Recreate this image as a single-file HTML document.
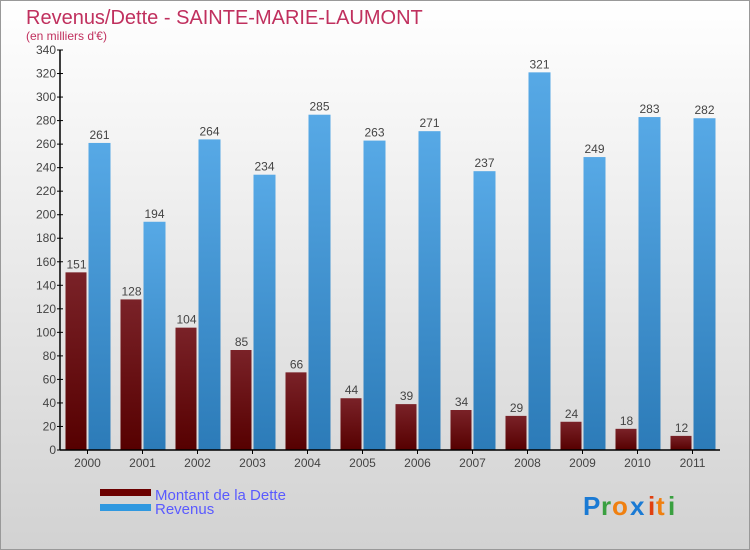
<!DOCTYPE html>
<html><head><meta charset="utf-8"><style>
body{margin:0}
svg{display:block;font-family:"Liberation Sans",sans-serif}
</style></head><body>
<svg width="750" height="550" id="c">
<defs>
<linearGradient id="bg" x1="0" y1="0" x2="0" y2="1"><stop offset="0" stop-color="#ffffff"/><stop offset="1" stop-color="#d2d2d2"/></linearGradient>
<linearGradient id="gd" x1="0" y1="0" x2="0" y2="1"><stop offset="0" stop-color="#7a2228"/><stop offset="1" stop-color="#560000"/></linearGradient>
<linearGradient id="gr" x1="0" y1="0" x2="0" y2="1"><stop offset="0" stop-color="#57a9e6"/><stop offset="1" stop-color="#2c7bb8"/></linearGradient>
</defs>
<rect x="0.5" y="0.5" width="749" height="549" fill="url(#bg)" stroke="#999"/>
<text x="26" y="24" font-size="20" fill="#c0305e">Revenus/Dette - SAINTE-MARIE-LAUMONT</text>
<text x="26" y="40" font-size="12" fill="#c0305e">(en milliers d'€)</text>
<g id="plot"></g>
<rect x="100" y="489" width="51" height="7" fill="#6b0000"/>
<rect x="100" y="504" width="51" height="7" fill="#2f98e0"/>
<text x="155" y="500" font-size="15" fill="#5a5aff">Montant de la Dette</text>
<text x="155" y="514" font-size="15" fill="#5a5aff">Revenus</text>
<g font-size="26" font-weight="bold">
<text x="583" y="515" fill="#1a7ad4">P</text><text x="601" y="515" fill="#3aa040">r</text><text x="612" y="515" fill="#f08010">o</text><text x="630" y="515" fill="#1a7ad4">x</text><text x="648" y="515" fill="#e04010">i</text><text x="656" y="515" fill="#f08010">t</text><text x="668" y="515" fill="#3aa040">i</text>
</g>
</svg>
<script>
const years=["2000","2001","2002","2003","2004","2005","2006","2007","2008","2009","2010","2011"];
const dette=[151,128,104,85,66,44,39,34,29,24,18,12];
const revenus=[261,194,264,234,285,263,271,237,321,249,283,282];
const yTicks=[0,20,40,60,80,100,120,140,160,180,200,220,240,260,280,300,320,340];
const NS="http://www.w3.org/2000/svg";
const g=document.getElementById('plot');
const x0=60,x1=720,yb=450,yt=50,ymax=340,step=(x1-x0)/years.length;
const y=v=>yb-(v/ymax)*(yb-yt);
function el(t,a,p){const e=document.createElementNS(NS,t);for(const k in a)e.setAttribute(k,a[k]);(p||g).appendChild(e);return e;}
yTicks.forEach(v=>{
const l=el('line',{x1:x0-3,x2:x0+3,y1:y(v),y2:y(v),stroke:'#000'});


const t=el('text',{x:x0-4,y:y(v)+4,'text-anchor':'end','font-size':12,fill:'#444'});t.textContent=v;


});
years.forEach((yr,i)=>{
const cx=x0+step*(i+0.5);
const bd=el('rect',{x:cx-22,y:y(dette[i]),width:21,height:yb-y(dette[i]),fill:'url(#gd)'});


const br=el('rect',{x:cx+1,y:y(revenus[i]),width:22,height:yb-y(revenus[i]),fill:'url(#gr)'});


const td=el('text',{x:cx-11,y:y(dette[i])-4,'text-anchor':'middle','font-size':12,fill:'#444'});td.textContent=dette[i];


const tr=el('text',{x:cx+12,y:y(revenus[i])-4,'text-anchor':'middle','font-size':12,fill:'#444'});tr.textContent=revenus[i];


const tk=el('line',{x1:cx,x2:cx,y1:yb,y2:yb+4,stroke:'#000'});


const tl=el('text',{x:cx,y:yb+17,'text-anchor':'middle','font-size':12,fill:'#444'});tl.textContent=yr;


});
const ya=el('line',{x1:x0,x2:x0,y1:yt,y2:yb,stroke:'#000','stroke-width':1.5});


const xa=el('line',{x1:x0,x2:x1,y1:yb,y2:yb,stroke:'#000','stroke-width':1.5});


</script>
</body></html>
